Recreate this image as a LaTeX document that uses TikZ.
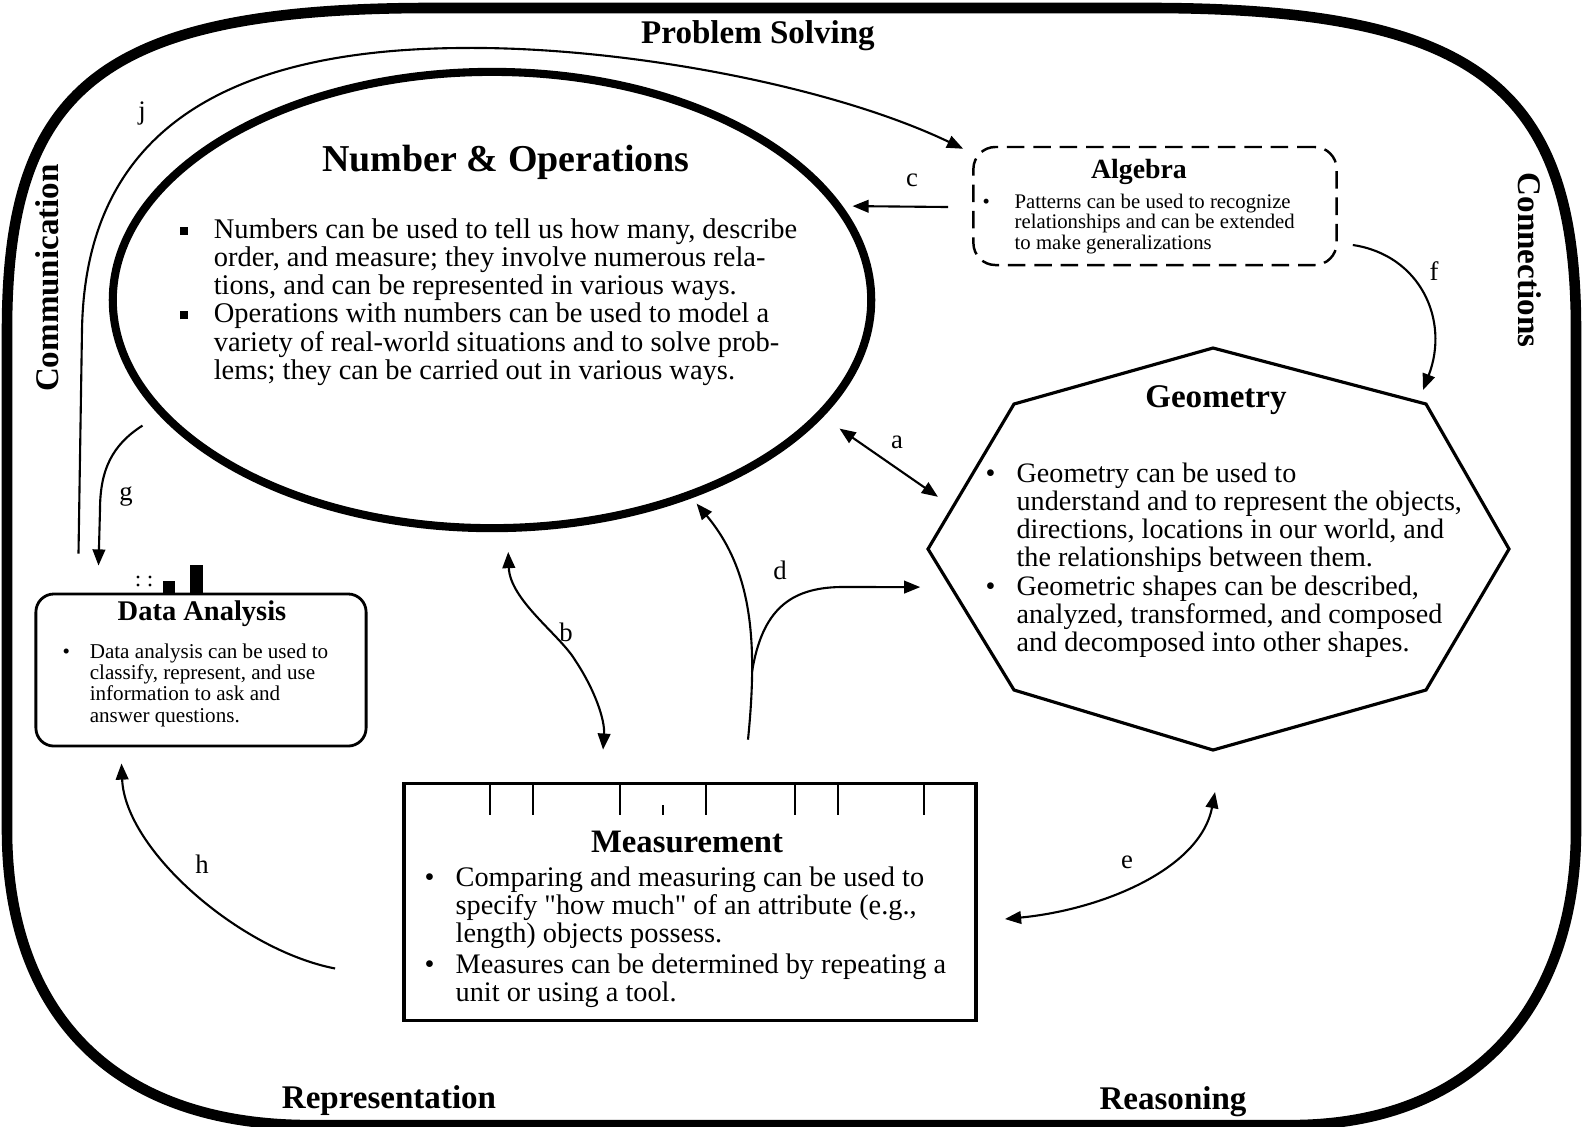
\documentclass[tikz,border=0pt]{standalone}
\usepackage{fontspec}
\setmainfont{Liberation Serif}
\usetikzlibrary{shapes.geometric,arrows.meta,calc,positioning}

\newcommand{\sqbul}{\rule[0.25ex]{2.3pt}{2.3pt}}

\tikzset{
  conn/.style={line width=0.6pt},
  arr/.style={conn,-{Triangle[length=4.6pt,width=3.6pt]}},
  darr/.style={conn,{Triangle[length=4.6pt,width=3.6pt]}-{Triangle[length=4.6pt,width=3.6pt]}},
  lbl/.style={font=\fontsize{7.6}{8}\selectfont, inner sep=0pt},
  theme/.style={font=\fontsize{9.4}{10}\selectfont\bfseries, inner sep=0pt},
  boxtitle/.style={inner sep=0pt},
  bullets/.style={anchor=base west, inner sep=0pt, align=left},
}

\begin{document}
\begin{tikzpicture}[x=0.01cm, y=-0.01cm]
    \useasboundingbox (0,0) rectangle (1585,1126);

    % Outer frame
    \draw[line width=3pt] (7,420) -- (7,330) .. controls (7,90) and (100,10) .. (420,8) -- (1160,8)
        .. controls (1480,10) and (1576,90) .. (1576,330) -- (1576,830)
        .. controls (1576,1000) and (1480,1121) .. (1300,1125) -- (300,1125)
        .. controls (100,1121) and (7,1000) .. (7,830) -- cycle;

    % Process standards
    \node[theme] (ps) at (758,36) {Problem Solving};
    \node[theme, rotate=90] (com) at (47,278) {Communication};
    \node[theme, rotate=-90] (con) at (1530,260) {Connections};
    \node[theme] (rep) at (389,1101) {Representation};
    \node[theme] (rea) at (1173,1102) {Reasoning};

    % Number & Operations
    \node[draw, ellipse, line width=2.3pt, minimum width=7.58cm, minimum height=4.56cm, inner sep=0pt] (numops) at (492,300) {};
    \node[boxtitle, font=\fontsize{10.8}{12}\selectfont\bfseries] (numtitle) at (506,162) {Number \& Operations};
    \node[bullets, font=\fontsize{8.1}{8}\selectfont] (numtext) at (179,238) {%
      \begin{tabular}[t]{@{}p{9.7pt}@{}l@{}}
        \sqbul & Numbers can be used to tell us how many, describe\\
               & order, and measure; they involve numerous rela-\\
               & tions, and can be represented in various ways.\\
        \sqbul & Operations with numbers can be used to model a\\
               & variety of real-world situations and to solve prob-\\
               & lems; they can be carried out in various ways.
      \end{tabular}};

    % Algebra
    \node[draw, line width=0.7pt, dash pattern=on 5pt off 2.5pt, rounded corners=0.22cm, minimum width=3.63cm, minimum height=1.18cm] (alg) at (1155,206) {};
    \node[boxtitle, font=\fontsize{7.9}{9}\selectfont\bfseries] (algtitle) at (1139,172) {Algebra};
    \node[bullets, font=\fontsize{5.9}{5.8}\selectfont] (algtext) at (982,208) {%
      \begin{tabular}[t]{@{}p{9.1pt}@{}l@{}}
        \textbullet & Patterns can be used to recognize\\
                    & relationships and can be extended\\
                    & to make generalizations
      \end{tabular}};

    % Geometry
    \coordinate (geoT) at (1213,348);
    \coordinate (geoUR) at (1426,404);
    \coordinate (geoR) at (1509,549);
    \coordinate (geoLR) at (1426,690);
    \coordinate (geoB) at (1213,750);
    \coordinate (geoLL) at (1014,690);
    \coordinate (geoL) at (928,549);
    \coordinate (geoUL) at (1014,404);
    \draw[line width=0.9pt] (geoT) -- (geoUR) -- (geoR) -- (geoLR) -- (geoB) -- (geoLL) -- (geoL) -- (geoUL) -- cycle;
    \node[boxtitle, font=\fontsize{9.4}{10}\selectfont\bfseries] (geotitle) at (1216,400) {Geometry};
    \node[bullets, font=\fontsize{8}{8.05}\selectfont] (geotext) at (985,482) {%
      \begin{tabular}[t]{@{}p{8.8pt}@{}l@{}}
        \textbullet & Geometry can be used to\\
                    & understand and to represent the objects,\\
                    & directions, locations in our world, and\\
                    & the relationships between them.\\
        \textbullet & Geometric shapes can be described,\\
                    & analyzed, transformed, and composed\\
                    & and decomposed into other shapes.
      \end{tabular}};

    % Data Analysis
    \node[draw, line width=0.8pt, rounded corners=0.18cm, minimum width=3.30cm, minimum height=1.52cm] (dat) at (201,670) {};
    \node[boxtitle, font=\fontsize{8.1}{9}\selectfont\bfseries] (dattitle) at (202,614) {Data Analysis};
    \node[bullets, font=\fontsize{6}{6.1}\selectfont] (dattext) at (62,658) {%
      \begin{tabular}[t]{@{}p{7.7pt}@{}l@{}}
        \textbullet & Data analysis can be used to\\
                    & classify, represent, and use\\
                    & information to ask and\\
                    & answer questions.
      \end{tabular}};
    % little bar graph
    \fill (163,581) rectangle (175,593);
    \fill (190,565) rectangle (203,593);
    \foreach \x in {138,150}
        \foreach \y in {577,585}
            \fill (\x,\y) circle (0.45pt);

    % Measurement
    \node[draw, line width=1pt, minimum width=5.72cm, minimum height=2.37cm] (meas) at (690,902) {};
    \foreach \x in {490,533,620,706,795,838,924}
        \draw[line width=0.6pt] (\x,784) -- (\x,815);
    \draw[line width=0.6pt] (663,805) -- (663,815);
    \node[boxtitle, font=\fontsize{9.3}{10}\selectfont\bfseries] (meastitle) at (687,842) {Measurement};
    \node[bullets, font=\fontsize{8.05}{7.8}\selectfont] (meastext) at (424,886) {%
      \begin{tabular}[t]{@{}p{8.8pt}@{}l@{}}
        \textbullet & Comparing and measuring can be used to\\
                    & specify \textquotedbl how much\textquotedbl\ of an attribute (e.g.,\\
                    & length) objects possess.\\[1pt]
        \textbullet & Measures can be determined by repeating a\\
                    & unit or using a tool.
      \end{tabular}};

    % Connectors
    % a
    \draw[darr] ($(numops.-20)+(19,9)$) -- ($(geoUL)!0.64!(geoL)+(-21,0)$);
    \node[lbl] (la) at (897,442) {a};
    % b
    \draw[darr] ($(numops.-86)+(0,20)$) .. controls (510,600) and (560,635) .. (575,660)
        .. controls (595,690) and (605,720) .. ($(meas.north west)+(201,-32)$);
    \node[lbl] (lb) at (566,632) {b};
    % c
    \draw[arr] ($(alg.west)+(-24,1)$) -- ($(numops.15)+(10,0)$);
    \node[lbl] (lc) at (912,180) {c};
    % d
    \coordinate (dj) at (752,672);
    \draw[arr] ($(meas.north)+(58,-42)$) .. controls (758,640) and (752,570) .. ($(numops.-45)+(6,5)$);
    \draw[arr] (dj) .. controls (762,610) and (790,588) .. (840,587) -- ($(geoL)!0.27!(geoLL)+(-31,0)$);
    \node[lbl] (ld) at (780,570) {d};
    % e
    \draw[darr] ($(meas.east)+(27,17)$) .. controls (1100,910) and (1200,870) .. ($(geoB)+(2,42)$);
    \node[lbl] (le) at (1127,862) {e};
    % f
    \draw[arr] ($(alg.east)+(15,39)$) .. controls (1420,255) and (1450,320) .. ($(geoUR)+(-3,-14)$);
    \node[lbl] (lf) at (1434,271) {f};
    % g
    \draw[arr] ($(numops.200)+(-21,6)$) .. controls (112,445) and (100,470) .. (100,510) -- ($(dat.north west)+(64,-27)$);
    \node[lbl] (lg) at (126,497) {g};
    % h
    \draw[arr] ($(meas.193)+(-67,0)$) .. controls (240,950) and (125,850) .. ($(dat.south west)+(87,16)$);
    \node[lbl] (lh) at (202,864) {h};
    % j
    \draw[arr] ($(dat.north west)+(44,-39)$) -- (82,330) .. controls (85,150) and (200,50) .. (460,48)
        .. controls (620,46) and (830,85) .. ($(alg.north west)+(-9,3)$);
    \node[lbl] (lj) at (142,113) {j};
\end{tikzpicture}
\end{document}
